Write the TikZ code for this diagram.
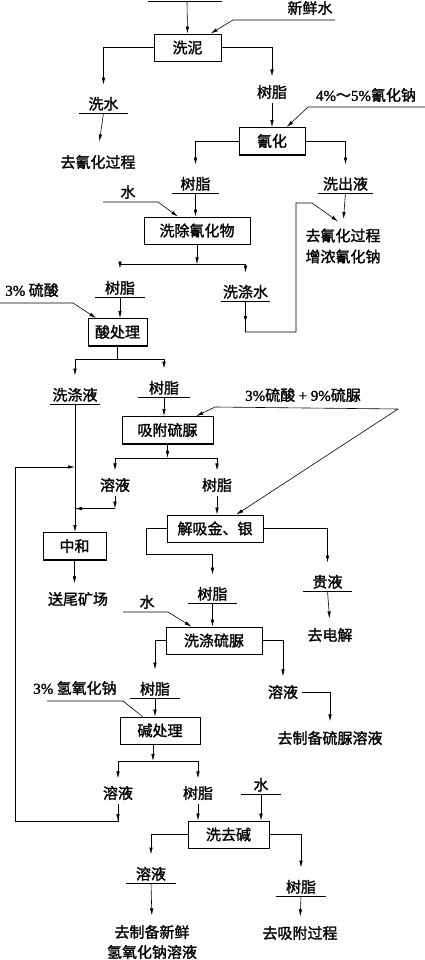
\documentclass[tikz,border=0pt]{standalone}
\usepackage{fontspec}
\setmainfont{Noto Sans CJK SC}[UprightFeatures={FakeBold=1.5}]
\newfontfamily\lat{Liberation Serif}[UprightFeatures={FakeBold=1.5}]
\usetikzlibrary{arrows.meta}

\tikzset{
  box/.style={draw, line width=0.8pt, inner sep=0pt, minimum height=27pt},
  ul/.style={anchor=south, inner sep=2pt, minimum width=49pt},
  arr/.style={-{Latex[length=7pt,width=3.5pt]}},
}

\begin{document}
\begin{tikzpicture}[x=1pt, y=-1pt, line width=0.6pt, font=\fontsize{15}{21}\selectfont]
\useasboundingbox (0,0) rectangle (425,960);

% boxes
\node[box, minimum width=67pt] (xini) at (187.5,47.5) {洗泥};
\node[box, minimum width=66pt] (qh) at (272,141) {氰化};
\node[box, minimum width=106pt] (xcqhw) at (197,230.5) {洗除氰化物};
\node[box, minimum width=59pt] (scl) at (117.5,332) {酸处理};
\node[box, minimum width=91pt] (xfsn) at (167.5,430) {吸附硫脲};
\node[box, minimum width=96pt] (jx) at (215,528.5) {解吸金、银};
\node[box, minimum width=63pt] (zh) at (74.5,546) {中和};
\node[box, minimum width=96pt] (xdsn) at (214,640.5) {洗涤硫脲};
\node[box, minimum width=80pt] (jcl) at (160,730.5) {碱处理};
\node[box, minimum width=81pt] (xqj) at (228.5,834.5) {洗去碱};
\foreach \b in {xini,qh,xcqhw,scl,xfsn,jx,zh,xdsn,jcl,xqj}
  \draw[line width=1.6pt] (\b.north east) -- (\b.south east) -- (\b.south west);

% labels
\node (xxs) at (310,8) {新鲜水};
\node[ul] (xs) at (103.5,113) {洗水};
\node (qhgc1) at (98,162) {去氰化过程};
\node (sz1) at (272,92) {树脂};
\node (nacn) at (366,95) {{\lat 4\%}～{\lat 5\%}氰化钠};
\node[ul, minimum width=47pt] (sz2) at (195.5,193) {树脂};
\node[ul, minimum width=55pt] (xcy) at (345.5,193) {洗出液};
\node (s1) at (128,192) {水};
\node[align=center] (qhgc2) at (343,246) {去氰化过程\\增浓氰化钠};
\node[ul] (sz3) at (120,297) {树脂};
\node[ul, minimum width=47pt] (xds) at (245.5,301) {洗涤水};
\node (ls1) at (32,290) {{\lat 3\%} 硫酸};
\node[ul] (xdy) at (75,404) {洗涤液};
\node[ul, minimum width=52pt] (sz4) at (164,397) {树脂};
\node (lsn) at (303,395) {{\lat 3\%}硫酸 {\lat + 9\%}硫脲};
\node (ry1) at (115,485) {溶液};
\node (sz5) at (217,485) {树脂};
\node (wk) at (78,599) {送尾矿场};
\node[ul] (sz6) at (212.5,603) {树脂};
\node[ul] (gy) at (327.5,591) {贵液};
\node (qdj) at (330,635) {去电解};
\node (s2) at (147,602) {水};
\node[ul, minimum width=50pt] (sz7) at (155,698) {树脂};
\node (ry2) at (283,692) {溶液};
\node (zbsn) at (330,738) {去制备硫脲溶液};
\node (naoh) at (75,688) {{\lat 3\%} 氢氧化钠};
\node (ry3) at (118,793) {溶液};
\node (sz8) at (198,793) {树脂};
\node[ul, minimum width=40pt] (s3) at (261,794) {水};
\node[ul, minimum width=50pt] (ry4) at (151,883) {溶液};
\node[ul, minimum width=50pt] (sz9) at (301,896) {树脂};
\node[align=center, font=\fontsize{15}{20}\selectfont] (zbnaoh) at (152,942) {去制备新鲜\\氢氧化钠溶液};
\node (xfgc) at (300,933) {去吸附过程};

% underlines
\foreach \n in {xs,sz2,xcy,sz3,xds,xdy,sz4,sz6,gy,sz7,s3,ry4,sz9}
  \draw[line width=0.9pt] (\n.south west) -- (\n.south east);

% feed lines
\coordinate (f1a) at (335,20); \coordinate (f1b) at (233,20);
\coordinate (f2a) at (425,107); \coordinate (f2b) at (308,107);
\coordinate (f3a) at (103,202); \coordinate (f3b) at (158,202);
\coordinate (f4a) at (0,303); \coordinate (f4b) at (73,303);
\coordinate (f5a) at (398,409); \coordinate (f5b) at (215,407);
\coordinate (f6a) at (123,612); \coordinate (f6b) at (168,612);
\coordinate (f7a) at (47,701); \coordinate (f7b) at (123,701);
\draw[arr] (f1a) -- (f1b) -- (xini);
\draw[arr] (f2a) -- (f2b) -- (qh);
\draw[arr] (f3a) -- (f3b) -- (xcqhw);
\draw[arr] (f4a) -- (f4b) -- (scl);
\draw[arr] (f5a) -- (f5b) -- (xfsn);
\draw[arr] (f5a) -- (jx);
\draw[arr] (f6a) -- (f6b) -- (xdsn);
\draw (f7a) -- (f7b) -- (jcl);

% top feed
\coordinate (tl) at (148,2); \coordinate (tr) at (222,2); \coordinate (top) at (187,2);
\draw[line width=1pt] (tl) -- (tr);
\draw[arr] (top) -- (xini.north);

% washing mud, cyanidation
\draw[arr, shorten >=10pt] (xini.west) -| (xs.north);
\draw[arr, shorten >=5pt] (xini.east) -| (sz1.north);
\draw[arr, shorten >=10pt] (xs.south) -- (qhgc1.north);
\draw[arr] (sz1.south) -- (qh.north);
\draw[arr, shorten >=10pt] (qh.west) -| (sz2.north);
\draw[arr, shorten >=10pt] (qh.east) -| (xcy.north);
\draw[arr, shorten >=6pt] (xcy.south) -- (qhgc2.north);
\draw[arr] (sz2.south) -- (sz2.south |- xcqhw.north);

% washing cyanide
\path (xcqhw.south) ++(0,20) coordinate (j1);
\draw[arr] (xcqhw.south) -- (j1);
\draw[arr, shorten >=10pt] (j1) -| (sz3.north);
\draw[arr, shorten >=10pt] (j1) -| (xds.north);
\coordinate (k4) at (296,332); \coordinate (k5) at (312,203);
\draw[arr] (xds.south) -- ++(0,22);
\draw[arr, shorten >=6pt] (xds.south) |- (k4) |- (k5) -- (qhgc2.north);

% acid treatment
\draw[arr] (sz3.south) -- (sz3.south |- scl.north);
\path (scl.south) ++(0,13) coordinate (j2);
\draw (scl.south) -- (j2);
\draw[arr, shorten >=10pt] (j2) -| (xdy.north);
\draw[arr, shorten >=10pt] (j2) -| (sz4.north);

% thiourea adsorption
\draw[arr] (sz4.south) -- (sz4.south |- xfsn.north);
\path (xfsn.south) ++(0,14) coordinate (j3);
\draw[arr] (xfsn.south) -- (j3);
\draw[arr, shorten >=4pt] (j3) -| (ry1.north);
\draw[arr, shorten >=4pt] (j3) -| (sz5.north);
\path (ry1.south) ++(0,13) coordinate (j4);
\draw[arr] (ry1.south) -- (j4);
\draw[arr] (j4) -- (j4 -| xdy.south);
\draw[arr] (xdy.south) -- (xdy.south |- zh.north);
\draw[arr, shorten >=5pt] (zh.south) -- (zh.south |- wk.north);

% desorption
\draw[arr] (sz5.south) -- (sz5.south |- jx.north);
\coordinate (k1) at (146,554);
\draw[arr, shorten >=10pt] (jx.west) -| (k1) -| (sz6.north);
\draw[arr, shorten >=10pt] (jx.east) -| (gy.north);
\draw[arr, shorten >=6pt] (gy.south) -- (qdj.north);

% washing thiourea
\draw[arr] (sz6.south) -- (sz6.south |- xdsn.north);
\draw[arr, shorten >=10pt] (xdsn.west) -| (sz7.north);
\draw[arr, shorten >=5pt] (xdsn.east) -| (ry2.north);
\draw[arr, shorten >=6pt] (ry2.east) -| (zbsn.north);

% alkali treatment
\draw[arr] (sz7.south) -- (sz7.south |- jcl.north);
\coordinate (j5) at (153,761);
\draw[arr] (j5 |- jcl.south) -- (j5);
\draw[arr, shorten >=4pt] (j5) -| (ry3.north);
\draw[arr, shorten >=4pt] (j5) -| (sz8.north);
\coordinate (k2) at (15,821); \coordinate (k3) at (75,467);
\draw[arr] (ry3.south) -- (ry3.south |- k2);
\draw[arr] (ry3.south) |- (k2) |- (k3);

% washing alkali
\draw[arr] (sz8.south) -- (sz8.south |- xqj.north);
\draw[arr] (s3.south) -- (s3.south |- xqj.north);
\draw[arr, shorten >=10pt] (xqj.west) -| (ry4.north);
\draw[arr, shorten >=10pt] (xqj.east) -| (sz9.north);
\draw[arr, shorten >=6pt] (ry4.south) -- (zbnaoh.north);
\draw[arr, shorten >=6pt] (sz9.south) -- (xfgc.north);
\end{tikzpicture}
\end{document}
